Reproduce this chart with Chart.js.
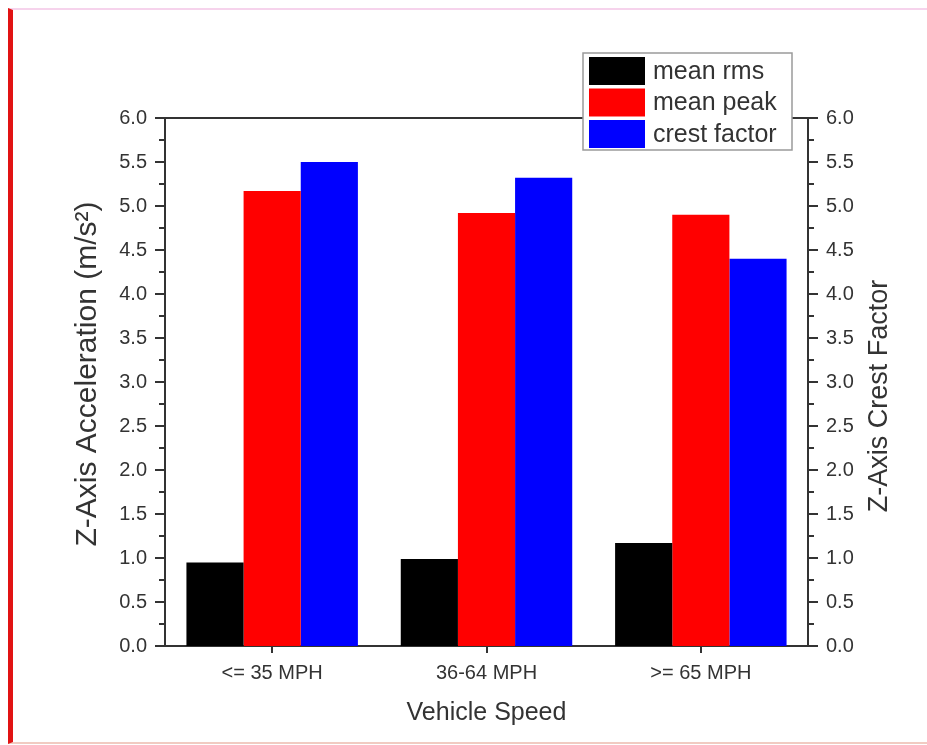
<!DOCTYPE html>
<html>
<head>
<meta charset="utf-8">
<title>Z-Axis Acceleration by Vehicle Speed</title>
<script src="https://cdn.jsdelivr.net/npm/chart.js@4.4.1/dist/chart.umd.min.js"></script>
<style>
  html, body { margin: 0; padding: 0; background: #fff; }
  #wrap { position: relative; width: 927px; height: 745px; overflow: hidden; }
  #wrap canvas { position: absolute; left: 0; top: 0; }
  #frame {
    position: absolute; left: 8px; top: 8px; width: 919px; height: 736px;
    box-sizing: border-box; pointer-events: none;
    border-top: 2px solid #f6d3ec;
    border-left: 5px solid #e11313;
    border-bottom: 2px solid #f1cbc2;
  }
</style>
</head>
<body>
<div id="wrap">
  <canvas id="chart" width="927" height="745"></canvas>
  <div id="frame"></div>
</div>
<script>
// Vehicle speed bands
const categories = ['<= 35 MPH', '36-64 MPH', '>= 65 MPH'];

// Z-axis acceleration (m/s²)
const meanRms  = [0.95, 0.99, 1.17];
const meanPeak = [5.17, 4.92, 4.90];

// Z-axis crest factor
const crestFactor = [5.50, 5.32, 4.40];

const seriesNames = ['mean rms', 'mean peak', 'crest factor'];

// Major tick values shared by both vertical axes
const yTickValues = [0.0, 0.5, 1.0, 1.5, 2.0, 2.5, 3.0, 3.5, 4.0, 4.5, 5.0, 5.5, 6.0];

const FONT = "'Liberation Sans', Arial, sans-serif";
const INK = '#333';

// Outer ticks, top frame line, boxed legend and the two vertical axis titles
const frameDecor = {
  id: 'frameDecor',
  afterDraw(chart, args, o) {
    const { ctx, chartArea: a, scales } = chart;
    ctx.save();
    ctx.strokeStyle = INK;
    ctx.lineWidth = o.lineWidth;
    ctx.lineCap = 'butt';
    const line = (x1, y1, x2, y2) => {
      ctx.beginPath(); ctx.moveTo(x1, y1); ctx.lineTo(x2, y2); ctx.stroke();
    };

    // top frame
    line(a.left - 1, Math.round(a.top), a.right + 1, Math.round(a.top));

    // major and minor ticks on both vertical axes
    yTickValues.forEach((v, i) => {
      const py = Math.round(scales.y.getPixelForValue(v));
      const py2 = Math.round(scales.y2.getPixelForValue(v));
      line(a.left, py, a.left - o.major, py);
      line(a.right, py2, a.right + o.major, py2);
      if (i < yTickValues.length - 1) {
        const m = (v + yTickValues[i + 1]) / 2;
        const my = Math.round(scales.y.getPixelForValue(m));
        const my2 = Math.round(scales.y2.getPixelForValue(m));
        line(a.left, my, a.left - o.minor, my);
        line(a.right, my2, a.right + o.minor, my2);
      }
    });

    // category ticks below the x axis
    categories.forEach((c, i) => {
      const px = Math.round(scales.x.getPixelForValue(i));
      line(px, a.bottom, px, a.bottom + o.xTick);
    });

    // legend box
    const L = o.legend;
    ctx.fillStyle = '#fff';
    ctx.fillRect(L.x, L.y, L.w, L.h);
    ctx.strokeStyle = '#9a9a9a';
    ctx.lineWidth = 1.5;
    ctx.strokeRect(L.x, L.y, L.w, L.h);
    ctx.font = L.font;
    ctx.textBaseline = 'middle';
    ctx.textAlign = 'left';
    chart.data.datasets.forEach((ds, i) => {
      const sy = L.y + L.top + i * L.step;
      ctx.fillStyle = ds.backgroundColor;
      ctx.fillRect(L.x + L.pad, sy, L.sw, L.sh);
      ctx.fillStyle = INK;
      ctx.fillText(ds.label, L.x + L.textX, sy + L.sh / 2 + 1);
    });

    // vertical axis titles, both reading upward
    o.titles.forEach(T => {
      ctx.save();
      ctx.translate(T.x, T.y);
      ctx.rotate(-Math.PI / 2);
      ctx.font = T.font;
      ctx.fillStyle = INK;
      ctx.textAlign = 'center';
      ctx.textBaseline = 'middle';
      ctx.fillText(T.text, 0, 0);
      ctx.restore();
    });
    ctx.restore();
  }
};

const tickFont = { family: FONT, size: 20 };

new Chart(document.getElementById('chart'), {
  type: 'bar',
  data: {
    labels: categories,
    datasets: [
      { label: seriesNames[0], data: meanRms, backgroundColor: '#000000', yAxisID: 'y' },
      { label: seriesNames[1], data: meanPeak, backgroundColor: '#ff0000', yAxisID: 'y' },
      { label: seriesNames[2], data: crestFactor, backgroundColor: '#0000ff', yAxisID: 'y2' }
    ]
  },
  options: {
    responsive: false,
    animation: false,
    devicePixelRatio: 1,
    categoryPercentage: 0.8,
    barPercentage: 1.0,
    datasets: { bar: { borderWidth: 0 } },
    layout: { padding: { top: 118, left: 0, right: 0, bottom: 0 } },
    plugins: {
      legend: { display: false },
      tooltip: { enabled: false },
      frameDecor: {
        lineWidth: 2,
        major: 10,
        minor: 6,
        xTick: 7,
        legend: {
          x: 583, y: 53, w: 209, h: 97,
          pad: 6, top: 4, step: 31.5, sw: 56, sh: 28, textX: 70,
          font: `25px ${FONT}`
        },
        titles: [
          { x: 88, y: 374, text: 'Z-Axis Acceleration (m/s²)', font: `30px ${FONT}` },
          { x: 880, y: 396, text: 'Z-Axis Crest Factor', font: `27px ${FONT}` }
        ]
      }
    },
    scales: {
      x: {
        grid: { display: false, drawTicks: false },
        border: { display: true, color: INK, width: 2 },
        ticks: { font: tickFont, color: INK, padding: 15, maxRotation: 0, autoSkip: false },
        title: {
          display: true, text: 'Vehicle Speed', color: INK,
          font: { family: FONT, size: 25 }, padding: { top: 0, bottom: 17 }
        },
        afterFit(s) { s.height = 99; }
      },
      y: {
        position: 'left',
        min: 0, max: 6,
        grid: { display: false, drawTicks: false },
        border: { display: true, color: INK, width: 2 },
        ticks: {
          stepSize: 0.5, font: tickFont, color: INK, padding: 18,
          callback: v => Number(v).toFixed(1)
        },
        afterFit(s) { s.width = 165; }
      },
      y2: {
        position: 'right',
        min: 0, max: 6,
        grid: { display: false, drawTicks: false },
        border: { display: true, color: INK, width: 2 },
        ticks: {
          stepSize: 0.5, font: tickFont, color: INK, padding: 18,
          callback: v => Number(v).toFixed(1)
        },
        afterFit(s) { s.width = 119; }
      }
    }
  },
  plugins: [frameDecor]
});
</script>
</body>
</html>
